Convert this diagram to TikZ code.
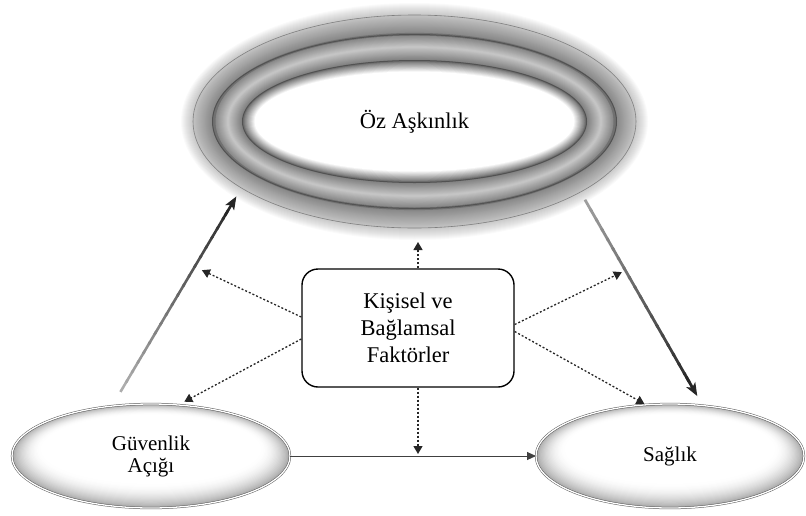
\documentclass[tikz,border=0pt]{standalone}
\usepackage{fontspec}
\setmainfont{Liberation Serif}
\usetikzlibrary{arrows.meta, calc, shapes.geometric}
\tikzset{
>={Stealth[length=13pt,width=10pt,inset=3pt]},
  core/.style={
    ellipse,
    minimum width=443pt,
    minimum height=213pt,
    inner sep=0pt, outer sep=0pt,
    font=\fontsize{22.5}{27}\selectfont},
  outcome/.style={
    ellipse,
    draw=black!65, line width=0.5pt,
    double=white, double distance=1.3pt,
    minimum height=104pt,
    inner sep=0pt, outer sep=0pt,
    align=center,
    font=\fontsize{21}{22}\selectfont},
  factor/.style={
    rectangle,
    rounded corners=16pt,
    fill=white,
    draw=black, line width=1.4pt,
    minimum width=212pt,
    minimum height=118pt,
    align=center,
    font=\fontsize{22.5}{27}\selectfont},
  effect/.style={draw=black!85, line width=1.3pt, dash pattern=on 2pt off 2pt,
    -{Triangle[length=8pt,width=9pt]}},
  direct/.style={draw=black!75, line width=0.9pt, -{Triangle[length=9pt,width=8pt]}},
  ring/.style={draw=black!68, line width=1pt},
}
% inner glow of an outcome ellipse: centre, x radius
\newcommand\glowfill[2]{%
  \foreach \i in {0,...,24}{
    \pgfmathsetmacro\t{\i/24}
    \pgfmathsetmacro\rx{#2-30*\t}
    \pgfmathsetmacro\ry{52-18*\t}
    \pgfmathsetmacro\dy{-7*\t}
    \pgfmathsetmacro\k{34*(1-\t)*(1-\t)}
    \fill[black!\k] ([yshift=-\dy pt]#1) ellipse [x radius=\rx pt, y radius=\ry pt];
  }}

\begin{document}
\begin{tikzpicture}[x=1pt, y=-1pt]
  \useasboundingbox (0,0) rectangle (806,515);
  \coordinate (ozc) at (414.5,121.5);
  \coordinate (guvc) at (151,456);
  \coordinate (sagc) at (670,456);
  % soft halo round the rings
  \foreach \d in {1,...,12}{
    \pgfmathsetmacro\rx{221.5+\d}
    \pgfmathsetmacro\ry{106.5+\d}
    \fill[black, opacity=0.02] (ozc) ellipse [x radius=\rx pt, y radius=\ry pt];
  }
  % grey bands, outside in
  \foreach \i in {0,...,60}{
    \pgfmathsetmacro\t{\i/60}
    \pgfmathsetmacro\rx{221.5-61.5*\t}
    \pgfmathsetmacro\ry{106.5-56.5*\t}
    \pgfmathsetmacro\k{\t<0.3 ? 24+22*\t/0.3 : (\t<0.35 ? 56 : (\t<0.56 ? 48-26*(\t-0.35)/0.21 : (\t<0.79 ? 22+28*(\t-0.56)/0.23 : (\t<0.83 ? 56 : 50*(1-\t)/0.17))))}
    \fill[black!\k] (ozc) ellipse [x radius=\rx pt, y radius=\ry pt];
  }
  \draw[ring] (ozc) ellipse [x radius=202pt, y radius=87pt];
  \draw[ring] (ozc) ellipse [x radius=172pt, y radius=61pt];
  \draw[black!50, line width=0.6pt] (ozc) ellipse [x radius=221.5pt, y radius=106.5pt];
  \glowfill{guvc}{139}
  \glowfill{sagc}{134}

  \node[core] (oz) at (ozc) {Öz Aşkınlık};
  \node[outcome, minimum width=278pt] (guv) at (guvc) {Güvenlik\\Açığı};
  \node[outcome, minimum width=268pt] (sag) at (sagc) {Sağlık};
  \node[factor] (kf) at (408,328) {Kişisel ve\\Bağlamsal\\Faktörler};

  % main paths
  \coordinate (aS) at ($(guv.128)!16.5pt!(oz.201.8)$);
  \coordinate (aE) at ($(oz.201.8)!9.8pt!(guv.128)$);
  \coordinate (bS) at ($(oz.337.9)!8.9pt!(sag.57.9)$);
  \coordinate (bE) at ($(sag.57.9)!10.9pt!(oz.337.9)$);
  \foreach \i in {0,...,19}{
    \pgfmathsetmacro\ta{0.93*\i/19}
    \pgfmathsetmacro\tb{min(0.93,0.93*(\i+1.25)/19)}
    \pgfmathsetmacro\k{32+53*\i/19}
    \draw[black!\k, line width=2.6pt] ($(aS)!\ta!(aE)$) -- ($(aS)!\tb!(aE)$);
    \pgfmathsetmacro\k{38+47*\i/19}
    \draw[black!\k, line width=2.8pt] ($(bS)!\ta!(bE)$) -- ($(bS)!\tb!(bE)$);
  }
  \draw[->, black!85, line width=2.6pt] ($(aS)!0.9!(aE)$) -- (aE);
  \draw[->, black!85, line width=2.8pt] ($(bS)!0.9!(bE)$) -- (bE);
  \draw[direct] (guv) -- (sag);

  % moderating factors
  \coordinate (kfUp) at ([xshift=10pt]kf.north);
  \coordinate (kfDown) at ([xshift=10pt]kf.south);
  \coordinate (aMid) at ($(aS)!0.64!(aE)$);
  \coordinate (bMid) at ($(bS)!0.36!(bE)$);
  \draw[effect, shorten >=14pt] (kfUp) -- (kfUp |- oz.south);
  \draw[effect, shorten >=2pt] (kfDown) -- (kfDown |- guv.east);
  \draw[effect, shorten >=8pt] ([yshift=11pt]kf.west) -- (aMid);
  \draw[effect, shorten >=7pt] ([yshift=-11pt]kf.west) -- (guv.62);
  \draw[effect, shorten >=4pt] ([yshift=3.5pt]kf.east) -- (bMid);
  \draw[effect, shorten >=2pt] ([yshift=-3.5pt]kf.east) -- (sag.115.6);
\end{tikzpicture}
\end{document}
